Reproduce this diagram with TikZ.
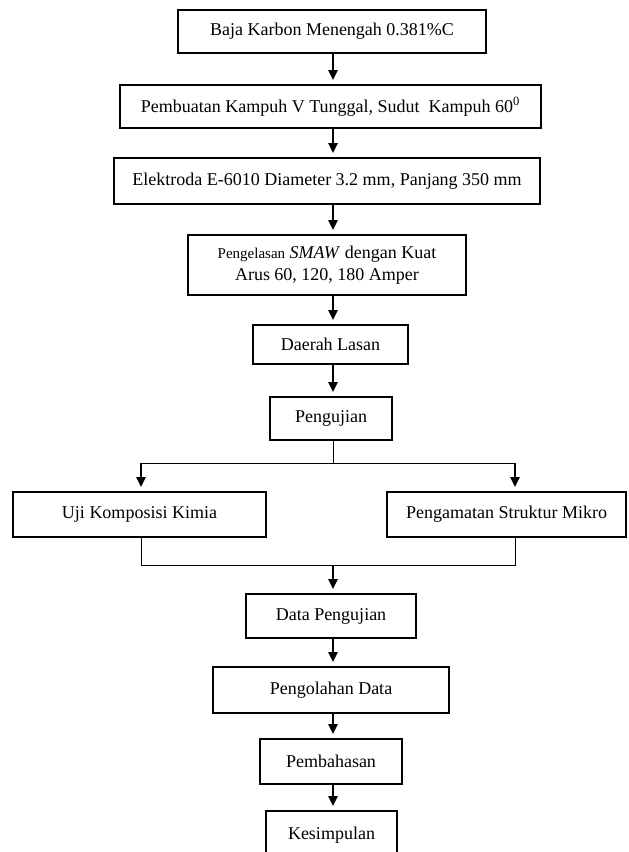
\documentclass[tikz,border=0pt]{standalone}
\usepackage{fontspec}
\setmainfont{Liberation Serif}
\usetikzlibrary{arrows.meta}

\begin{document}
\begin{tikzpicture}[x=0.6pt,y=-0.6pt, every node/.style={font=\fontsize{10.8}{13.5}\selectfont},
 box/.style={draw, line width=0.7pt, inner sep=0pt, align=center},
 arr/.style={line width=1.1pt, shorten >=2.6pt, -{Triangle[length=6pt,width=5.6pt]}},
 link/.style={line width=0.6pt}]
\clip (0,0) rectangle (628,852);
\coordinate (spine) at (333,0);
\node[box, minimum width=184.8pt, minimum height=25.8pt] (baja) at (332,31.5) {Baja Karbon Menengah 0.381\%C};
\node[box, minimum width=252.6pt, minimum height=25.8pt] (kampuh) at (330.5,106.5) {Pembuatan Kampuh V Tunggal, Sudut\ \ Kampuh 60\textsuperscript{0}};
\node[box, minimum width=255.6pt, minimum height=27.6pt] (elektroda) at (327,181) {Elektroda E-6010 Diameter 3.2 mm, Panjang 350 mm};
\node[box, minimum width=166.8pt, minimum height=36pt] (smaw) at (327,265) {{\fontsize{9}{11}\selectfont Pengelasan} \textit{SMAW} dengan Kuat\\Arus 60, 120, 180 Amper};
\node[box, minimum width=93pt, minimum height=23.4pt] (daerah) at (330.5,344.5) {Daerah Lasan};
\node[box, minimum width=73.2pt, minimum height=25.8pt] (uji) at (331,418.5) {Pengujian};
\node[box, minimum width=151.8pt, minimum height=27pt] (kimia) at (139.5,514.5) {Uji Komposisi Kimia};
\node[box, minimum width=143.4pt, minimum height=27pt] (mikro) at (506.5,514.5) {Pengamatan Struktur Mikro};
\node[box, minimum width=102pt, minimum height=26.4pt] (data) at (331,616) {Data Pengujian};
\node[box, minimum width=141.6pt, minimum height=27.6pt] (olah) at (331,690) {Pengolahan Data};
\node[box, minimum width=85.2pt, minimum height=27pt] (bahas) at (331,761.5) {Pembahasan};
\node[box, minimum width=78.6pt, minimum height=29.4pt] (simpul) at (331.5,835.5) {Kesimpulan};
% alur utama
\draw[arr] (baja.south -| spine) -- (kampuh.north -| spine);
\draw[arr] (kampuh.south -| spine) -- (elektroda.north -| spine);
\draw[arr] (elektroda.south -| spine) -- (smaw.north -| spine);
\draw[arr] (smaw.south -| spine) -- (daerah.north -| spine);
\draw[arr] (daerah.south -| spine) -- (uji.north -| spine);
% cabang pengujian
\coordinate (split) at (333,463);
\coordinate (lft) at (141,463);
\coordinate (rgt) at (515,463);
\coordinate (join) at (333,565);
\draw[link] (uji.south -| spine) -- (split);
\draw[link] (lft) -- (rgt);
\draw[arr] (lft) -- (lft |- kimia.north);
\draw[arr] (rgt) -- (rgt |- mikro.north);
\draw[link] (kimia.south -| lft) -- (lft |- join) -- (rgt |- join) -- (mikro.south -| rgt);
\draw[arr] (join) -- (data.north -| spine);
\draw[arr] (data.south -| spine) -- (olah.north -| spine);
\draw[arr] (olah.south -| spine) -- (bahas.north -| spine);
\draw[arr] (bahas.south -| spine) -- (simpul.north -| spine);
\end{tikzpicture}
\end{document}
